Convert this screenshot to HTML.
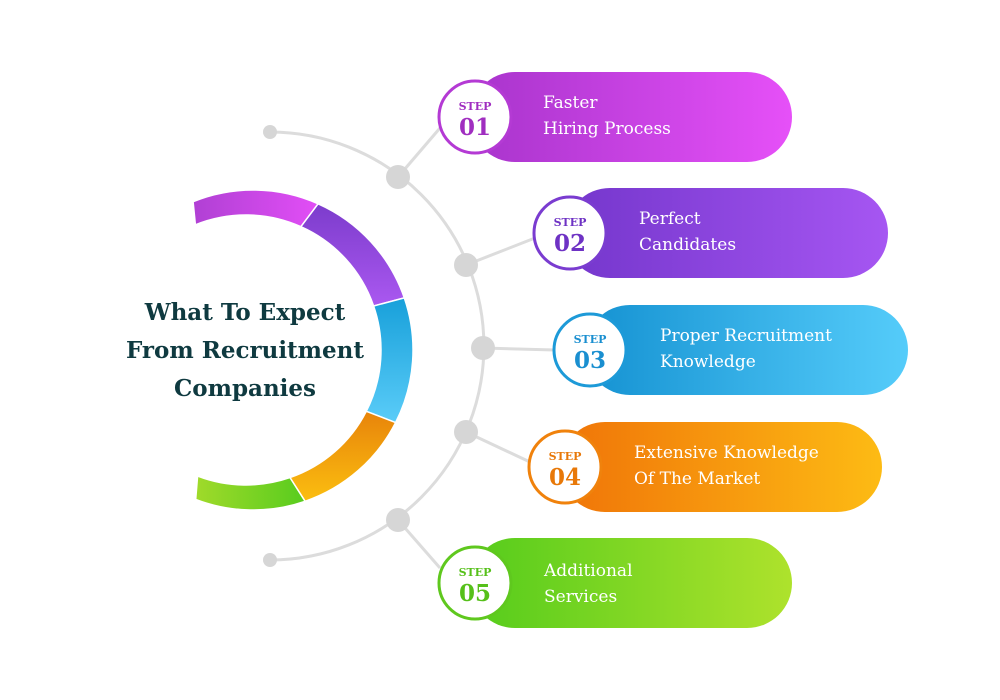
<!DOCTYPE html>
<html><head><meta charset="utf-8"><style>
body{margin:0;background:#fff;width:1000px;height:700px;overflow:hidden}
svg{display:block}
text{font-family:"DejaVu Serif","Liberation Serif",serif}
</style></head><body>
<svg width="1000" height="700" viewBox="0 0 1000 700">
<defs>
<linearGradient id="g1" x1="0" x2="1"><stop offset="0" stop-color="#a834cc"/><stop offset="1" stop-color="#e650f8"/></linearGradient>
<linearGradient id="g2" x1="0" x2="1"><stop offset="0" stop-color="#7436cc"/><stop offset="1" stop-color="#a656f2"/></linearGradient>
<linearGradient id="g3" x1="0" x2="1"><stop offset="0" stop-color="#1592d2"/><stop offset="1" stop-color="#55ccfa"/></linearGradient>
<linearGradient id="g4" x1="0" x2="1"><stop offset="0" stop-color="#f07408"/><stop offset="1" stop-color="#fdbb14"/></linearGradient>
<linearGradient id="g5" x1="0" x2="1"><stop offset="0" stop-color="#55cc1c"/><stop offset="1" stop-color="#aee22c"/></linearGradient>
<linearGradient id="r1" x1="0" x2="1"><stop offset="0" stop-color="#b040d4"/><stop offset="1" stop-color="#e24ef6"/></linearGradient>
<linearGradient id="r2" x1="0" x2="0" y1="0" y2="1"><stop offset="0" stop-color="#7c3ccc"/><stop offset="1" stop-color="#aa58f0"/></linearGradient>
<linearGradient id="r3" x1="0" x2="0" y1="0" y2="1"><stop offset="0" stop-color="#18a0da"/><stop offset="1" stop-color="#5accf8"/></linearGradient>
<linearGradient id="r4" x1="0" x2="0" y1="0" y2="1"><stop offset="0" stop-color="#e8840a"/><stop offset="1" stop-color="#fbbe10"/></linearGradient>
<linearGradient id="r5" x1="0" x2="1"><stop offset="0" stop-color="#a0da2a"/><stop offset="1" stop-color="#58cc1e"/></linearGradient>
</defs>
<g id="ring"></g>
<text fill="#0f3a40" font-size="23" font-weight="bold" text-anchor="middle"><tspan x="245" y="320">What To Expect</tspan><tspan x="245" y="358">From Recruitment</tspan><tspan x="245" y="396">Companies</tspan></text>
<path d="M 270 132 A 214 214 0 0 1 270 560" fill="none" stroke="#dcdcdc" stroke-width="3"/>
<g stroke="#dcdcdc" stroke-width="3">
<line x1="398" y1="177" x2="440" y2="128"/><line x1="466" y1="265" x2="535" y2="238"/><line x1="483" y1="348" x2="555" y2="350"/><line x1="466" y1="432" x2="530" y2="462"/><line x1="398" y1="520" x2="440" y2="568"/>
</g>
<g fill="#d6d6d6">
<circle cx="270" cy="132" r="7"/><circle cx="270" cy="560" r="7"/>
<circle cx="398" cy="177" r="12"/><circle cx="466" cy="265" r="12"/><circle cx="483" cy="348" r="12"/><circle cx="466" cy="432" r="12"/><circle cx="398" cy="520" r="12"/>
</g>
<g>
<rect x="470" y="72" width="322" height="90" rx="45" fill="url(#g1)"/>
<circle cx="475" cy="117" r="36" fill="#fff" stroke="#b43ad4" stroke-width="3"/>
<text x="475" y="110" font-size="11" font-weight="bold" fill="#a02ec0" text-anchor="middle">STEP</text>
<text x="475" y="135" font-size="23" font-weight="bold" fill="#a02ec0" text-anchor="middle">01</text>
<text x="543" y="108" font-size="17" fill="#fff">Faster</text><text x="543" y="134" font-size="17" fill="#fff">Hiring Process</text>
</g>
<g>
<rect x="565" y="188" width="323" height="90" rx="45" fill="url(#g2)"/>
<circle cx="570" cy="233" r="36" fill="#fff" stroke="#7a3cd0" stroke-width="3"/>
<text x="570" y="226" font-size="11" font-weight="bold" fill="#6e32c4" text-anchor="middle">STEP</text>
<text x="570" y="251" font-size="23" font-weight="bold" fill="#6e32c4" text-anchor="middle">02</text>
<text x="639" y="224" font-size="17" fill="#fff">Perfect</text><text x="639" y="250" font-size="17" fill="#fff">Candidates</text>
</g>
<g>
<rect x="585" y="305" width="323" height="90" rx="45" fill="url(#g3)"/>
<circle cx="590" cy="350" r="36" fill="#fff" stroke="#1d9ad8" stroke-width="3"/>
<text x="590" y="343" font-size="11" font-weight="bold" fill="#1a8fd0" text-anchor="middle">STEP</text>
<text x="590" y="368" font-size="23" font-weight="bold" fill="#1a8fd0" text-anchor="middle">03</text>
<text x="660" y="341" font-size="17" fill="#fff">Proper Recruitment</text><text x="660" y="367" font-size="17" fill="#fff">Knowledge</text>
</g>
<g>
<rect x="560" y="422" width="322" height="90" rx="45" fill="url(#g4)"/>
<circle cx="565" cy="467" r="36" fill="#fff" stroke="#f0820c" stroke-width="3"/>
<text x="565" y="460" font-size="11" font-weight="bold" fill="#e87808" text-anchor="middle">STEP</text>
<text x="565" y="485" font-size="23" font-weight="bold" fill="#e87808" text-anchor="middle">04</text>
<text x="634" y="458" font-size="17" fill="#fff">Extensive Knowledge</text><text x="634" y="484" font-size="17" fill="#fff">Of The Market</text>
</g>
<g>
<rect x="470" y="538" width="322" height="90" rx="45" fill="url(#g5)"/>
<circle cx="475" cy="583" r="36" fill="#fff" stroke="#5fc81e" stroke-width="3"/>
<text x="475" y="576" font-size="11" font-weight="bold" fill="#56c01a" text-anchor="middle">STEP</text>
<text x="475" y="601" font-size="23" font-weight="bold" fill="#56c01a" text-anchor="middle">05</text>
<text x="544" y="576" font-size="17" fill="#fff">Additional</text><text x="544" y="602" font-size="17" fill="#fff">Services</text>
</g>
</svg>
<script>
var bounds=[-112,-66,-19,27,71,111];
var fills=['url(#r1)','url(#r2)','url(#r3)','url(#r4)','url(#r5)'];
var ring=document.getElementById('ring');
function pt(cx,cy,r,a){a=a*Math.PI/180;return (cx+r*Math.cos(a)).toFixed(1)+' '+(cy+r*Math.sin(a)).toFixed(1);}
for(var i=0;i<5;i++){
  var a0=bounds[i],a1=bounds[i+1];
  var d='M '+pt(253,350,160,a0)+' A 160 160 0 0 1 '+pt(253,350,160,a1)+' L '+pt(246,350,135,a1)+' A 135 135 0 0 0 '+pt(246,350,135,a0)+' Z';
  var p=document.createElementNS('http://www.w3.org/2000/svg','path');
  p.setAttribute('d',d);p.setAttribute('fill',fills[i]);p.setAttribute('stroke','#fff');p.setAttribute('stroke-width','1.5');
  
  
  ring.appendChild(p);
}
</script>
</body></html>
